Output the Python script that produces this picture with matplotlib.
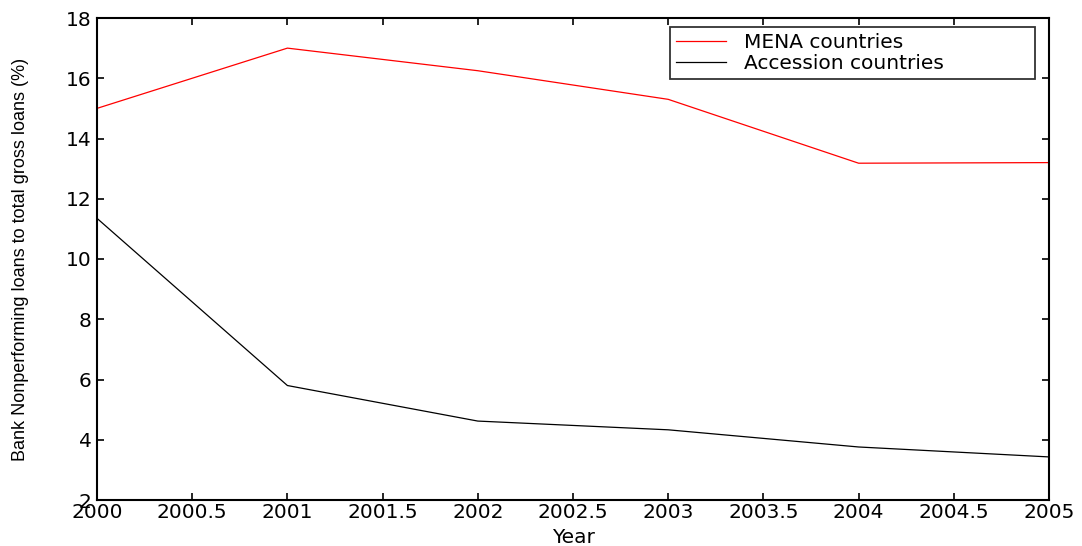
import matplotlib
matplotlib.use("Agg")
import matplotlib.pyplot as plt

years = [2000, 2001, 2002, 2003, 2004, 2005]
mena = [15.0, 17.0, 16.25, 15.3, 13.18, 13.2]
accession = [11.35, 5.8, 4.62, 4.33, 3.76, 3.43]

xtick_vals = [2000 + 0.5 * i for i in range(11)]
xtick_labels = ["2000", "2000.5", "2001", "2001.5", "2002", "2002.5",
                "2003", "2003.5", "2004", "2004.5", "2005"]
ytick_vals = list(range(2, 19, 2))

plt.rcParams["font.family"] = ["DejaVu Sans"]

fig = plt.figure(figsize=(10.82, 5.46), dpi=100)
ax = fig.add_axes([97 / 1082, 46 / 546, (1049 - 97) / 1082, (500 - 18) / 546])

ax.plot(years, mena, color="#ff0000", lw=0.9, label="MENA countries")
ax.plot(years, accession, color="#000000", lw=0.9, label="Accession countries")

ax.set_xlim(2000, 2005)
ax.set_ylim(2, 18)
ax.set_xticks(xtick_vals)
ax.set_xticklabels(xtick_labels)
ax.set_yticks(ytick_vals)

ax.tick_params(direction="in", length=5, width=1.2, top=True, right=True,
               labelsize=14.5)
ax.tick_params(axis="x", pad=2)
ax.tick_params(axis="y", pad=4)
for s in ax.spines.values():
    s.set_linewidth(1.5)

ax.set_xlabel("Year", fontsize=14.5)
ax.xaxis.set_label_coords(0.5, -0.058)
ax.set_ylabel("Bank Nonperforming loans to total gross loans (%)",
              fontsize=13, family="Liberation Sans", va="center")
ax.yaxis.set_label_coords(-0.080, 0.5)

leg = ax.legend(loc="upper left", bbox_to_anchor=(0.602, 0.873, 0.383, 0.108),
                mode="expand", borderaxespad=0, fontsize=14.5, frameon=True,
                fancybox=False, edgecolor="black", handlelength=2.5,
                handletextpad=0.85, borderpad=0.3, labelspacing=0.08)
leg.get_frame().set_linewidth(1.3)

fig.savefig("out.png", dpi=100)
